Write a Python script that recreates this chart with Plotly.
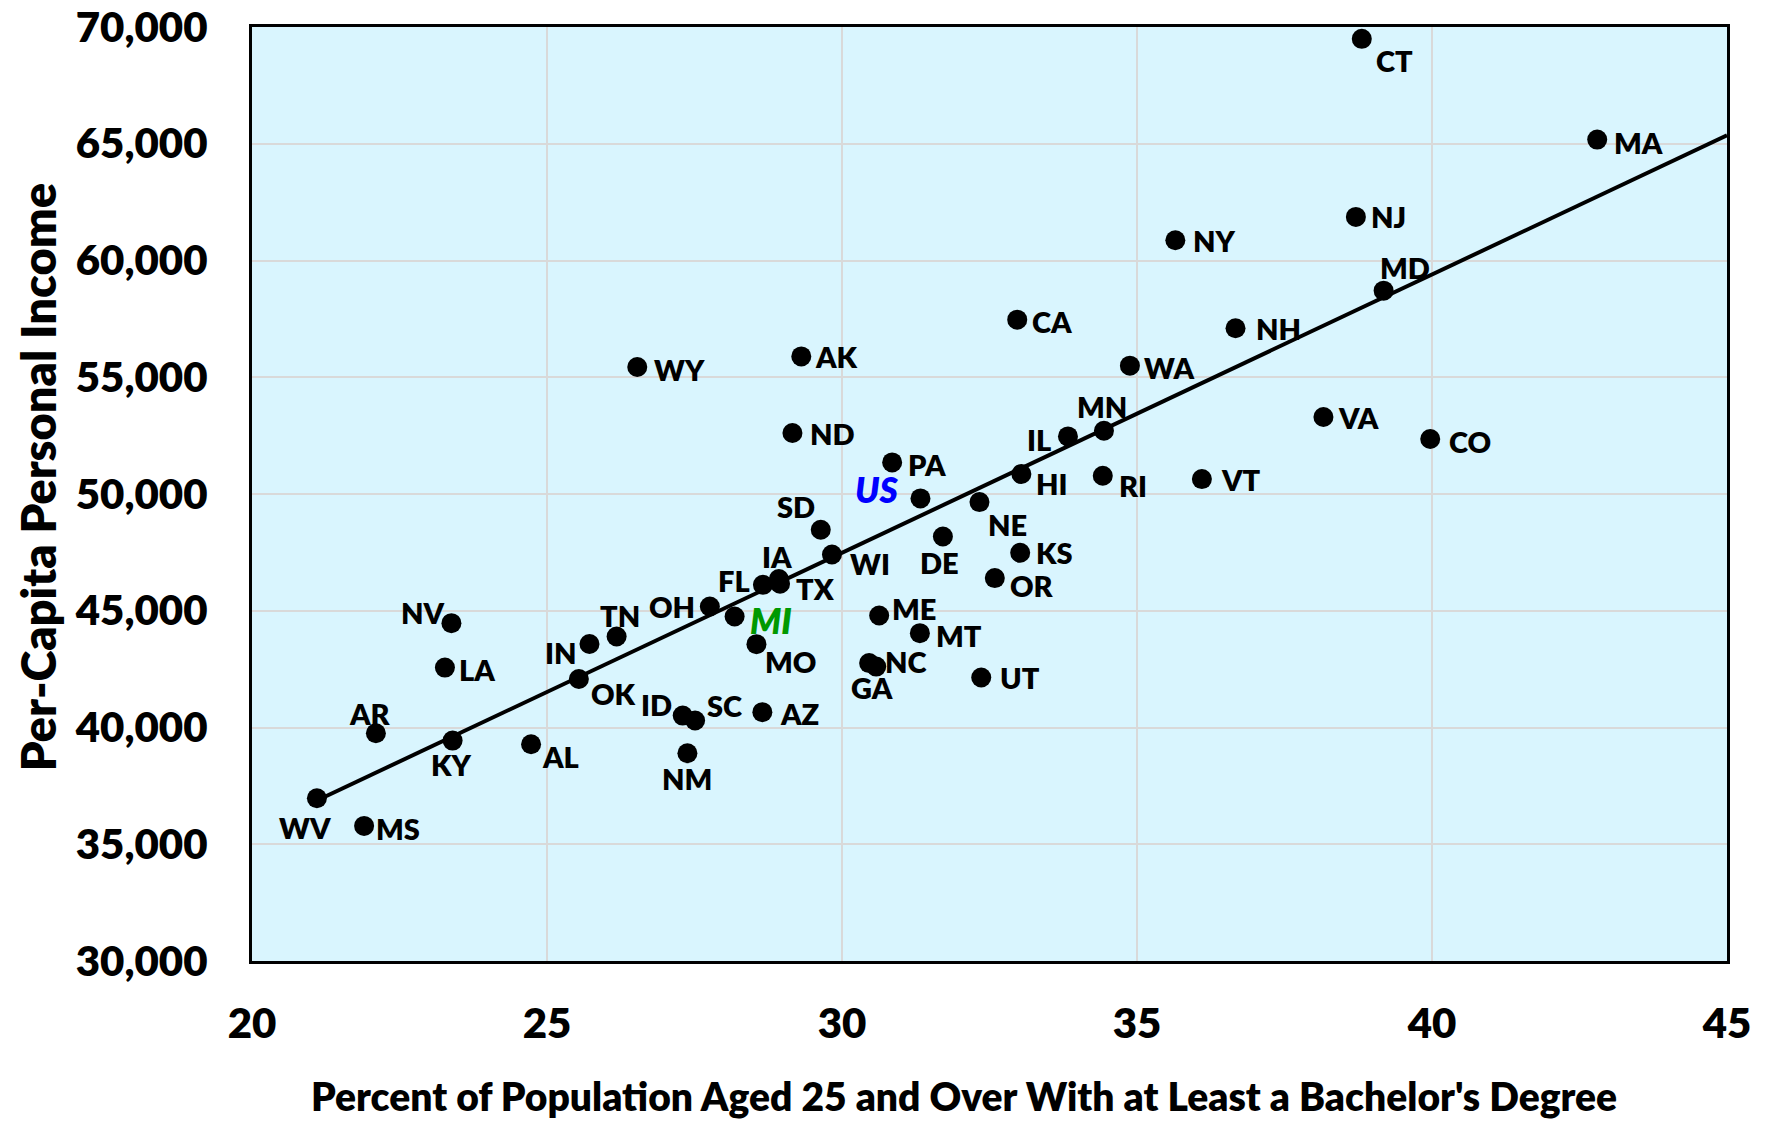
import numpy as np
import plotly.graph_objects as go

# state, % with bachelor's degree (25+), per-capita personal income
states = ['CT', 'MA', 'NJ', 'NY', 'MD', 'CA', 'NH', 'WA', 'WY', 'AK',
          'VA', 'CO', 'ND', 'MN', 'IL', 'PA', 'HI', 'RI', 'VT', 'NE',
          'SD', 'DE', 'WI', 'KS', 'OR', 'IA', 'FL', 'TX', 'OH', 'MI',
          'ME', 'NV', 'TN', 'MT', 'IN', 'MO', 'GA', 'NC', 'LA', 'UT',
          'OK', 'ID', 'SC', 'AZ', 'AR', 'KY', 'AL', 'NM', 'WV', 'MS']
edu = [38.81, 42.80, 38.71, 35.65, 39.18, 32.97, 36.67, 34.88, 26.53, 29.31,
       38.16, 39.97, 29.16, 34.44, 33.83, 30.85, 33.04, 34.42, 36.10, 32.33,
       29.64, 31.71, 29.83, 33.02, 32.59, 28.93, 28.66, 28.95, 27.76, 28.18,
       30.63, 23.38, 26.18, 31.32, 25.72, 28.55, 30.46, 30.58, 23.27, 32.36,
       25.54, 27.30, 27.51, 28.65, 22.10, 23.40, 24.73, 27.38, 21.10, 21.90]
income = [69494, 65179, 61867, 60865, 58709, 57467, 57100, 55495, 55439, 55894,
          53297, 52354, 52611, 52710, 52466, 51354, 50855, 50782, 50640, 49655,
          48468, 48182, 47410, 47482, 46398, 46355, 46111, 46154, 45182, 44753,
          44796, 44470, 43896, 44040, 43575, 43570, 42757, 42610, 42567, 42140,
          42075, 40510, 40298, 40656, 39755, 39439, 39285, 38899, 36971, 35785]
us_edu = 31.33
us_income = 49811

# label placement: (xanchor, xshift, yshift) in px
label_pos = {
    'CT': ('left', 12, -22), 'MA': ('left', 15, -3), 'NJ': ('left', 13, 0),
    'NY': ('left', 16, 0), 'MD': ('left', -6, 23), 'CA': ('left', 13, -2),
    'NH': ('left', 18, 0), 'WA': ('left', 12, -2), 'WY': ('left', 15, -2),
    'AK': ('left', 12, 0), 'VA': ('left', 13, 0), 'CO': ('left', 17, -2),
    'ND': ('left', 16, 0), 'MN': ('center', -2, 24), 'IL': ('right', -15, -3),
    'PA': ('left', 14, -2), 'HI': ('left', 13, -9), 'RI': ('left', 14, -10),
    'VT': ('left', 17, 0), 'NE': ('left', 7, -22), 'SD': ('right', -4, 23),
    'DE': ('center', -3, -26), 'WI': ('left', 16, -9), 'KS': ('left', 14, 0),
    'OR': ('left', 13, -7), 'IA': ('center', -2, 23), 'FL': ('right', -11, 4),
    'TX': ('left', 14, -5), 'OH': ('right', -13, 0), 'MI': ('left', 13, -3),
    'ME': ('left', 11, 7), 'NV': ('right', -4, 11), 'TN': ('center', 3, 21),
    'MT': ('left', 14, -2), 'IN': ('right', -10, -8), 'MO': ('left', 7, -17),
    'GA': ('center', 3, -24), 'NC': ('left', 7, 5), 'LA': ('left', 12, -2),
    'UT': ('left', 17, 0), 'OK': ('left', 10, -14), 'ID': ('right', -9, 11),
    'SC': ('left', 10, 15), 'AZ': ('left', 16, -1), 'AR': ('center', -6, 20),
    'KY': ('center', -2, -24), 'AL': ('left', 9, -12), 'NM': ('center', 0, -25),
    'WV': ('center', -12, -29), 'MS': ('left', 10, -3),
}

FONT = 'Lato'
W = 800

# linear trend through the states, extended to the right edge
slope, icept = np.polyfit(edu, income, 1)
trend_x = [min(edu), 45]
trend_y = [slope * v + icept for v in trend_x]

fig = go.Figure()
fig.add_trace(go.Scatter(x=trend_x, y=trend_y, mode='lines',
                         line=dict(color='black', width=4),
                         hoverinfo='skip', showlegend=False))
fig.add_trace(go.Scatter(x=edu + [us_edu], y=income + [us_income],
                         mode='markers', text=states + ['US'],
                         marker=dict(color='black', size=20),
                         showlegend=False))

for st, xv, yv in zip(states, edu, income):
    anchor, dx, dy = label_pos[st]
    if st == 'MI':
        f = dict(family=FONT, size=35, weight=W, color='#009900', style='italic')
    else:
        f = dict(family=FONT, size=29, weight=W, color='black')
    fig.add_annotation(x=xv, y=yv, text=st, showarrow=False,
                       xanchor=anchor, yanchor='middle', xshift=dx, yshift=dy,
                       font=f)
fig.add_annotation(x=us_edu, y=us_income, text='US', showarrow=False,
                   xanchor='right', yanchor='middle', xshift=-20, yshift=9,
                   font=dict(family=FONT, size=35, weight=W,
                             color='#0000FF', style='italic'))

# axis titles
fig.add_annotation(xref='paper', yref='paper', x=0.483, y=-0.145,
                   xanchor='center', yanchor='middle', showarrow=False,
                   text="Percent of Population Aged 25 and Over With at Least a Bachelor's Degree",
                   font=dict(family=FONT, size=39, weight=W, color='black'))
fig.add_annotation(xref='paper', yref='paper', x=-0.145, y=0.518,
                   xanchor='center', yanchor='middle', showarrow=False,
                   textangle=-90, text='Per-Capita Personal Income',
                   font=dict(family=FONT, size=47, weight=W, color='black'))

# page body adds an 8px offset, so the figure is shifted by that amount
fig.update_layout(
    width=1758, height=1114,
    margin=dict(l=244, r=39, t=19, b=161, autoexpand=False),
    plot_bgcolor='#D9F5FE', paper_bgcolor='white',
    font=dict(family=FONT, color='black'),
)
fig.update_xaxes(range=[20, 45], dtick=5, tick0=20, automargin=False,
                 showgrid=True, gridcolor='#D9D9D9', gridwidth=1.5,
                 showline=True, linecolor='black', linewidth=3, mirror=True,
                 zeroline=False, ticks='', ticklabelstandoff=24,
                 ticklabeloverflow='allow',
                 tickfont=dict(family=FONT, size=42, weight=W))
fig.update_yaxes(range=[30000, 70000], dtick=5000, tick0=30000, tickformat=',',
                 automargin=False,
                 showgrid=True, gridcolor='#D9D9D9', gridwidth=1.5,
                 showline=True, linecolor='black', linewidth=3, mirror=True,
                 zeroline=False, ticks='', ticklabelstandoff=33,
                 ticklabeloverflow='allow',
                 tickfont=dict(family=FONT, size=42, weight=W))

fig.write_html("out.html")
